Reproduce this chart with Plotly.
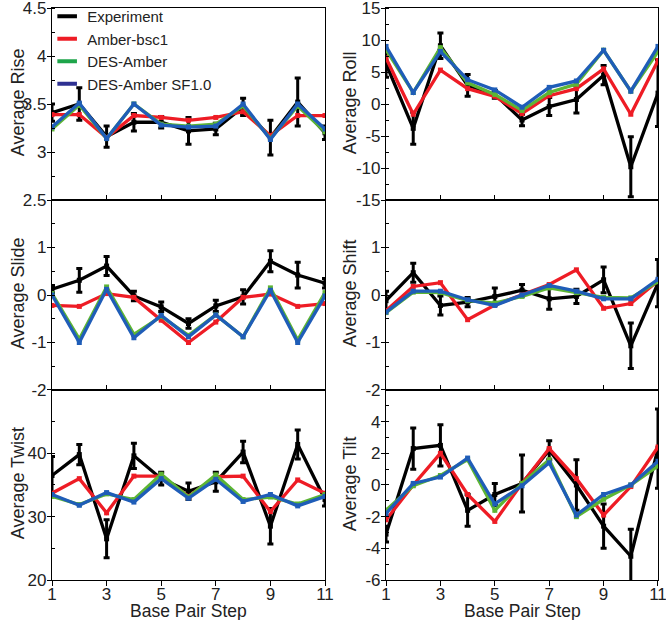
import plotly.graph_objects as go
from plotly.subplots import make_subplots

steps = list(range(1, 12))

# Rise
rise_exp = [3.41, 3.50, 3.16, 3.31, 3.31, 3.22, 3.24, 3.47, 3.15, 3.52, 3.20]
rise_exp_err = [0.09, 0.17, 0.11, 0.09, 0.06, 0.14, 0.06, 0.09, 0.18, 0.25, 0.07]
rise_bsc1 = [3.39, 3.39, 3.15, 3.38, 3.36, 3.33, 3.36, 3.42, 3.17, 3.38, 3.38]
rise_des = [3.24, 3.49, 3.14, 3.50, 3.29, 3.27, 3.29, 3.48, 3.14, 3.48, 3.21]
rise_sf = [3.26, 3.51, 3.14, 3.50, 3.28, 3.26, 3.27, 3.50, 3.13, 3.50, 3.24]

# Roll
roll_exp = [6.3, -3.8, 9.1, 2.9, 1.5, -2.5, -0.4, 0.7, 4.5, -9.8, 1.7]
roll_exp_err = [2.1, 2.5, 2.0, 1.7, 0.6, 0.9, 1.4, 2.1, 1.5, 4.7, 5.2]
roll_bsc1 = [7.2, -1.6, 5.3, 2.4, 1.2, -1.5, 1.3, 2.4, 5.5, -1.6, 6.8]
roll_des = [8.5, 1.8, 8.8, 3.3, 1.5, -1.0, 1.8, 3.1, 8.4, 2.0, 8.2]
roll_sf = [9.0, 1.8, 8.2, 3.8, 2.2, -0.5, 2.6, 3.6, 8.4, 2.0, 9.0]

# Slide
slide_exp = [0.12, 0.31, 0.61, -0.02, -0.25, -0.60, -0.23, -0.04, 0.71, 0.42, 0.25]
slide_exp_err = [0.08, 0.25, 0.20, 0.10, 0.10, 0.10, 0.12, 0.15, 0.22, 0.27, 0.10]
slide_bsc1 = [-0.22, -0.24, 0.03, -0.05, -0.53, -1.00, -0.57, -0.05, 0.02, -0.24, -0.18]
slide_des = [0.03, -0.93, 0.17, -0.83, -0.45, -0.85, -0.42, -0.88, 0.15, -0.95, 0.05]
slide_sf = [0.00, -1.00, 0.12, -0.90, -0.43, -0.88, -0.42, -0.88, 0.10, -1.00, -0.02]

# Shift
shift_exp = [-0.12, 0.47, -0.22, -0.15, -0.03, 0.10, -0.08, -0.03, 0.32, -1.07, 0.25]
shift_exp_err = [0.20, 0.20, 0.20, 0.10, 0.18, 0.12, 0.22, 0.15, 0.27, 0.48, 0.50]
shift_bsc1 = [-0.33, 0.18, 0.26, -0.52, -0.21, 0.00, 0.22, 0.53, -0.28, -0.18, 0.30]
shift_des = [-0.37, 0.06, 0.05, -0.12, -0.17, -0.03, 0.15, 0.05, -0.05, -0.06, 0.28]
shift_sf = [-0.36, 0.08, 0.08, -0.10, -0.22, 0.00, 0.20, 0.08, -0.08, -0.08, 0.33]

# Twist
twist_exp = [36.5, 39.8, 26.5, 39.6, 36.0, 34.0, 35.5, 40.2, 28.5, 41.4, 32.7]
twist_exp_err = [3.0, 1.6, 3.0, 2.0, 1.0, 1.3, 1.5, 1.7, 2.8, 2.3, 1.0]
twist_bsc1 = [33.7, 36.0, 30.6, 36.4, 36.4, 33.2, 36.3, 36.4, 30.8, 35.8, 33.7]
twist_des = [33.2, 31.9, 33.6, 32.7, 36.7, 33.1, 36.6, 32.7, 33.1, 32.0, 33.5]
twist_sf = [33.5, 31.8, 33.8, 32.3, 36.0, 32.9, 35.9, 32.4, 33.5, 31.7, 33.2]

# Tilt
tilt_exp = [-3.1, 2.3, 2.5, -1.6, -0.6, 0.1, 2.2, 0.0, -2.6, -4.5, 2.3]
tilt_exp_err = [0.5, 1.3, 1.3, 1.0, 0.7, 1.8, 0.6, 1.6, 1.4, 1.7, 2.5]
tilt_bsc1 = [-2.2, 0.0, 2.0, -0.6, -2.3, 0.1, 2.3, 0.4, -1.9, -0.1, 2.4]
tilt_des = [-1.6, -0.05, 0.6, 1.6, -1.6, 0.1, 1.6, -2.0, -0.9, 0.0, 1.2]
tilt_sf = [-1.8, 0.1, 0.5, 1.7, -1.2, -0.05, 1.4, -1.9, -0.6, 0.0, 1.5]

series_names = ["Experiment", "Amber-bsc1", "DES-Amber", "DES-Amber SF1.0"]
line_colors = ["#000000", "#ee1c25", "#5db534", "#1f5db8"]
legend_colors = ["#000000", "#ee1c25", "#1ea54a", "#2e3192"]

panels = [
    (1, 1, "Average Rise", rise_exp, rise_exp_err, rise_bsc1, rise_des, rise_sf,
     [2.5, 4.5], [2.5, 3, 3.5, 4, 4.5], 0.25),
    (1, 2, "Average Roll", roll_exp, roll_exp_err, roll_bsc1, roll_des, roll_sf,
     [-15, 15], [-15, -10, -5, 0, 5, 10, 15], 2.5),
    (2, 1, "Average Slide", slide_exp, slide_exp_err, slide_bsc1, slide_des, slide_sf,
     [-2, 2], [-2, -1, 0, 1], 0.5),
    (2, 2, "Average Shift", shift_exp, shift_exp_err, shift_bsc1, shift_des, shift_sf,
     [-2, 2], [-2, -1, 0, 1], 0.5),
    (3, 1, "Average Twist", twist_exp, twist_exp_err, twist_bsc1, twist_des, twist_sf,
     [20, 50], [20, 30, 40], 5),
    (3, 2, "Average Tilt", tilt_exp, tilt_exp_err, tilt_bsc1, tilt_des, tilt_sf,
     [-6, 6], [-6, -4, -2, 0, 2, 4], 1),
]

fig = make_subplots(rows=3, cols=2, horizontal_spacing=0.1, vertical_spacing=0)

font_family = "Liberation Sans, Arial, sans-serif"
x_domains = {1: [0.0, 0.4505], 2: [0.5512, 1.0]}
y_domains = {1: [0.6643, 1.0], 2: [0.3322, 0.6643], 3: [0.0, 0.3322]}
ytitle_x = {1: -0.0561, 2: 0.4917}

for row, col, title, exp, err, bsc1, des, sf, yrange, ticks, minor in panels:
    fig.add_trace(go.Scatter(
        x=steps, y=exp, mode="lines+markers", showlegend=False,
        line=dict(color=line_colors[0], width=3.3),
        marker=dict(symbol="square", size=5, color=line_colors[0]),
        error_y=dict(type="data", array=err, color="#000000", thickness=3, width=3),
    ), row=row, col=col)
    for vals, color in zip([bsc1, des, sf], line_colors[1:]):
        fig.add_trace(go.Scatter(
            x=steps, y=vals, mode="lines+markers", showlegend=False,
            line=dict(color=color, width=3.3),
            marker=dict(symbol="square", size=5, color=color),
        ), row=row, col=col)

    fig.update_yaxes(
        range=yrange, tickmode="array", tickvals=ticks,
        ticktext=[str(t) for t in ticks],
        ticks="outside", ticklen=4, tickwidth=1.3, tickcolor="#000",
        ticklabelstandoff=-3, ticklabeloverflow="allow",
        tickfont=dict(size=17, color="#222"),
        minor=dict(ticks="inside", ticklen=3, tickwidth=1.1, tickcolor="#000",
                   dtick=minor, tick0=yrange[0], showgrid=False),
        showline=True, linewidth=1.2, linecolor="#000", mirror=True,
        showgrid=False, zeroline=False, domain=y_domains[row], automargin=False,
        row=row, col=col,
    )
    fig.update_xaxes(
        range=[1, 11], tickmode="array", tickvals=[1, 3, 5, 7, 9, 11],
        ticks="outside" if row == 3 else "inside", ticklen=5, tickwidth=1.3,
        tickcolor="#000", showticklabels=(row == 3), ticklabelstandoff=-7,
        ticklabeloverflow="allow", tickfont=dict(size=17, color="#222"),
        showline=True, linewidth=1.2, linecolor="#000", mirror=True,
        showgrid=False, zeroline=False, domain=x_domains[col], automargin=False,
        row=row, col=col,
    )
    # y title
    fig.add_annotation(
        text=title, xref="paper", yref="paper", textangle=-90,
        x=ytitle_x[col], y=sum(y_domains[row]) / 2 + 0.003,
        xanchor="center", yanchor="middle", showarrow=False,
        font=dict(size=18, color="#222"),
    )

# x titles under the bottom panels
for col in (1, 2):
    fig.add_annotation(
        text="Base Pair Step", xref="paper", yref="paper",
        x=sum(x_domains[col]) / 2, y=-0.055, xanchor="center", yanchor="middle",
        showarrow=False, font=dict(size=17.5, color="#222"),
    )

# legend-only entries with short line samples
for name, color in zip(series_names, legend_colors):
    fig.add_trace(go.Scatter(
        x=[None], y=[None], mode="markers", name=name,
        marker=dict(symbol="line-ew-open", size=14, color=color,
                    line=dict(color=color, width=4)),
    ), row=1, col=1)

fig.update_layout(
    width=666, height=620,
    margin=dict(l=52, r=8, t=8, b=40, autoexpand=False),
    plot_bgcolor="#ffffff", paper_bgcolor="#ffffff",
    font=dict(family=font_family, color="#222"),
    showlegend=True,
    legend=dict(x=-0.008, y=1.014, xanchor="left", yanchor="top",
                bgcolor="rgba(0,0,0,0)", font=dict(size=15, color="#222"),
                itemwidth=30, tracegroupgap=0),
)

fig.write_html("out.html", config={"displayModeBar": False},
               post_script="document.body.style.margin='0px';")
